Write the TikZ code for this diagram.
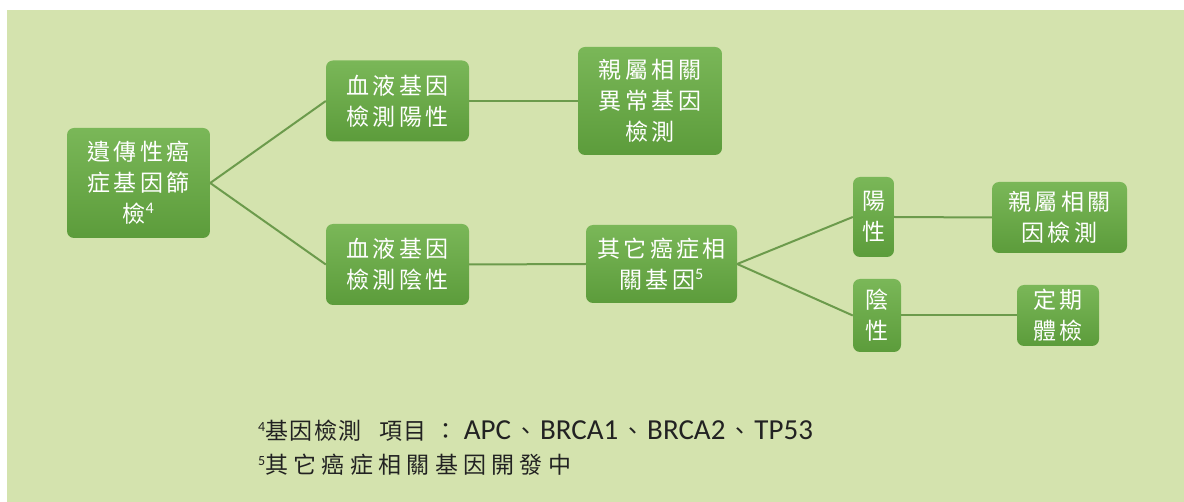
\documentclass[tikz,border=0pt]{standalone}
\usepackage{fontspec}
\setmainfont{Carlito}
\newfontfamily\cjk[LetterSpace=6]{Noto Sans CJK TC}
\newfontfamily\cjkwide[LetterSpace=23]{Noto Sans CJK TC}
\newfontfamily\cjkbox[LetterSpace=15]{Noto Sans CJK TC}
\newfontfamily\latn{Carlito}
\definecolor{bgwhite}{HTML}{FFFFFF}
\definecolor{bggreen}{HTML}{D4E3AE}
\definecolor{boxtop}{HTML}{7AB758}
\definecolor{boxbot}{HTML}{5C9C3B}
\definecolor{linkc}{HTML}{6C9B4C}
\definecolor{notec}{HTML}{222222}
\tikzset{
  gbox/.style={rounded corners=7pt, top color=boxtop, bottom color=boxbot, draw=none,
    text=white, align=center, inner sep=0pt, font=\cjkbox\fontsize{23}{31}\selectfont},
  link/.style={draw=linkc, line width=2pt},
  note/.style={anchor=west, inner sep=0pt, text=notec, font=\fontsize{29}{32}\selectfont}
}
\newcommand{\cj}[1]{{\cjk\fontsize{23}{30}\selectfont #1}}
\newcommand{\cjw}[1]{{\cjkwide\fontsize{23}{30}\selectfont #1}}
\newcommand{\sm}[1]{\raisebox{8pt}{\fontsize{14}{14}\selectfont #1}}
\begin{document}
\begin{tikzpicture}[x=1pt,y=-1pt]
\fill[bgwhite] (0,0) rectangle (1184,502);
\fill[bggreen] (7,10) rectangle (1184,502);
\useasboundingbox (0,0) rectangle (1184,502);
\node[gbox, minimum width=143pt, minimum height=110pt] (root) at (138.5,183) {遺傳性癌\\症基因篩\\檢{\latn\textsuperscript{4}}};
\node[gbox, minimum width=143pt, minimum height=81pt] (b1) at (397.5,101) {血液基因\\檢測陽性};
\node[gbox, minimum width=143pt, minimum height=81pt] (b2) at (397.5,264.5) {血液基因\\檢測陰性};
\node[gbox, minimum width=144pt, minimum height=108pt] (r1) at (650,101) {親屬相關\\異常基因\\檢測};
\node[gbox, minimum width=151pt, minimum height=78pt] (o) at (661.5,264) {其它癌症相\\關基因{\latn\textsuperscript{5}}};
\node[gbox, minimum width=41pt, minimum height=80pt] (p) at (873.5,217) {陽\\性};
\node[gbox, minimum width=48pt, minimum height=73pt] (n) at (877,315.5) {陰\\性};
\node[gbox, minimum width=135pt, minimum height=71pt] (r2) at (1059.5,217.5) {親屬相關\\因檢測};
\node[gbox, minimum width=82pt, minimum height=61pt] (d) at (1058,315.5) {定期\\體檢};
\draw[link] (root.east) -- (b1.west);
\draw[link] (root.east) -- (b2.west);
\draw[link] (b1.east) -- (r1.west);
\draw[link] (b2.east) -- (o.west);
\draw[link] (o.east) -- (p.west);
\draw[link] (o.east) -- (n.west);
\draw[link] (p.east) -- (r2.west);
\draw[link] (n.east) -- (d.west);
\node[note] (f1) at (258,431) {\sm{4}\cj{基因檢測\hspace{18pt}項目\hspace{8pt}：\hspace{6pt}}APC\hspace{3pt}\cj{、}\hspace{3pt}BRCA1\hspace{3pt}\cj{、}\hspace{3pt}BRCA2\hspace{3pt}\cj{、}\hspace{3pt}TP53};
\node[note] (f2) at (258,465) {\sm{5}\cjw{其它癌症相關基因開發中}};
\end{tikzpicture}
\end{document}
